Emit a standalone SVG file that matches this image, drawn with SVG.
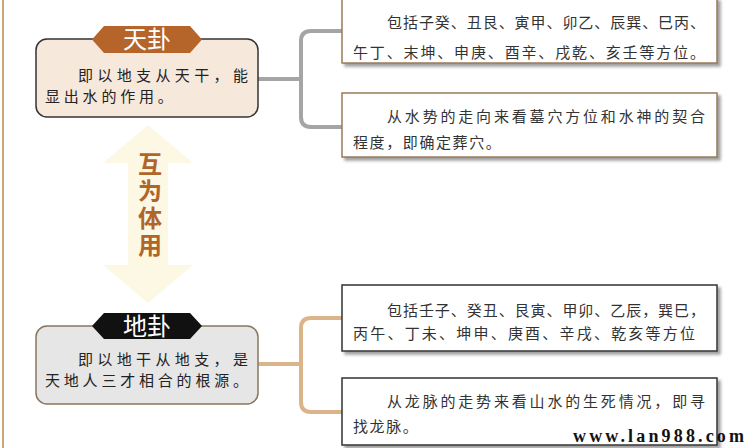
<svg xmlns="http://www.w3.org/2000/svg" width="744" height="448" viewBox="0 0 744 448">
<defs>
<style>
.body{font-family:"Noto Sans CJK SC","Noto Sans",sans-serif;font-size:15px;fill:#222}
.rt{font-family:"Noto Sans CJK SC","Noto Sans",sans-serif;font-size:15px;fill:#333}
.tag{font-family:"Noto Sans CJK SC","Noto Sans",sans-serif;font-size:24px;fill:#fff;text-anchor:middle}
.box{fill:#fff;stroke-width:1.5}
</style>
<filter id="sh" x="-5%" y="-10%" width="115%" height="130%">
<feDropShadow dx="3" dy="3" stdDeviation="1.5" flood-color="#777" flood-opacity="0.7"/>
</filter>
</defs>
<rect width="744" height="448" fill="#fff"/>
<line x1="3" y1="0" x2="3" y2="448" stroke="#c9a77a" stroke-width="2"/>

<g id="arrow">
<path d="M148,125 L193,163 L168,163 L168,265 L193,265 L148,303 L103,265 L128,265 L128,163 L103,163 Z" fill="#fdf8e4"/>
<text x="150" y="152" writing-mode="tb" letter-spacing="3" font-family="'Noto Sans CJK SC',sans-serif" font-size="24" font-weight="bold" fill="#b0652a">互为体用</text>
</g>

<g id="connectors" fill="none" stroke-width="4">
<path d="M258,79 H301 M342,31 H311 Q301,31 301,41 V117 Q301,127 311,127 H342" stroke="#a5a5a5"/>
<path d="M258,364 H301 M342,318 H311 Q301,318 301,328 V402 Q301,412 311,412 H342" stroke="#dcb48a"/>
</g>

<g id="tiangua">
<rect x="36" y="39" width="222" height="78" rx="11" fill="#f6e9dc" stroke="#333" stroke-width="1.5"/>
<polygon points="92,39.5 104,26 190,26 202,39.5 190,53 104,53" fill="#b5652a"/>
<text class="tag" x="147" y="48">天卦</text>
<text class="body" x="78" y="81" textLength="170" lengthAdjust="spacing">即以地支从天干，能</text>
<text class="body" x="45" y="102" letter-spacing="3.8">显出水的作用。</text>
</g>

<g id="digua">
<rect x="36" y="326" width="222" height="78" rx="11" fill="#e6e6e6" stroke="#8a7560" stroke-width="1.5"/>
<polygon points="92,326 104,313 190,313 202,326 190,339 104,339" fill="#111"/>
<text class="tag" x="147" y="335">地卦</text>
<text class="body" x="78" y="365" textLength="170" lengthAdjust="spacing">即以地干从地支，是</text>
<text class="body" x="45" y="386" textLength="203" lengthAdjust="spacing">天地人三才相合的根源。</text>
</g>

<g id="box1">
<rect class="box" x="342" y="-2" width="375" height="65" stroke="#9a7a5a" filter="url(#sh)"/>
<text class="rt" x="387" y="28" textLength="318" lengthAdjust="spacing">包括子癸、丑艮、寅甲、卯乙、辰巽、巳丙、</text>
<text class="rt" x="353" y="58" textLength="352" lengthAdjust="spacing">午丁、末坤、申庚、酉辛、戌乾、亥壬等方位。</text>
</g>

<g id="box2">
<rect class="box" x="342" y="93" width="375" height="64" stroke="#9a7a5a" filter="url(#sh)"/>
<text class="rt" x="387" y="122" textLength="318" lengthAdjust="spacing">从水势的走向来看墓穴方位和水神的契合</text>
<text class="rt" x="353" y="148" letter-spacing="1.6">程度，即确定葬穴。</text>
</g>

<g id="box3">
<rect class="box" x="342" y="285" width="375" height="66" stroke="#333" filter="url(#sh)"/>
<text class="rt" x="387" y="316" textLength="318" lengthAdjust="spacing">包括壬子、癸丑、艮寅、甲卯、乙辰，巽巳，</text>
<text class="rt" x="353" y="339" textLength="342" lengthAdjust="spacing">丙午、丁未、坤申、庚酉、辛戌、乾亥等方位</text>
</g>

<g id="box4">
<rect class="box" x="342" y="378" width="375" height="67" stroke="#333" filter="url(#sh)"/>
<text class="rt" x="387" y="407" textLength="318" lengthAdjust="spacing">从龙脉的走势来看山水的生死情况，即寻</text>
<text class="rt" x="353" y="432" letter-spacing="1.6">找龙脉。</text>
</g>

<text x="573" y="442" font-family="'Liberation Serif',serif" font-size="18" font-weight="bold" fill="#111" textLength="171" lengthAdjust="spacing">www.lan988.com</text>
</svg>
